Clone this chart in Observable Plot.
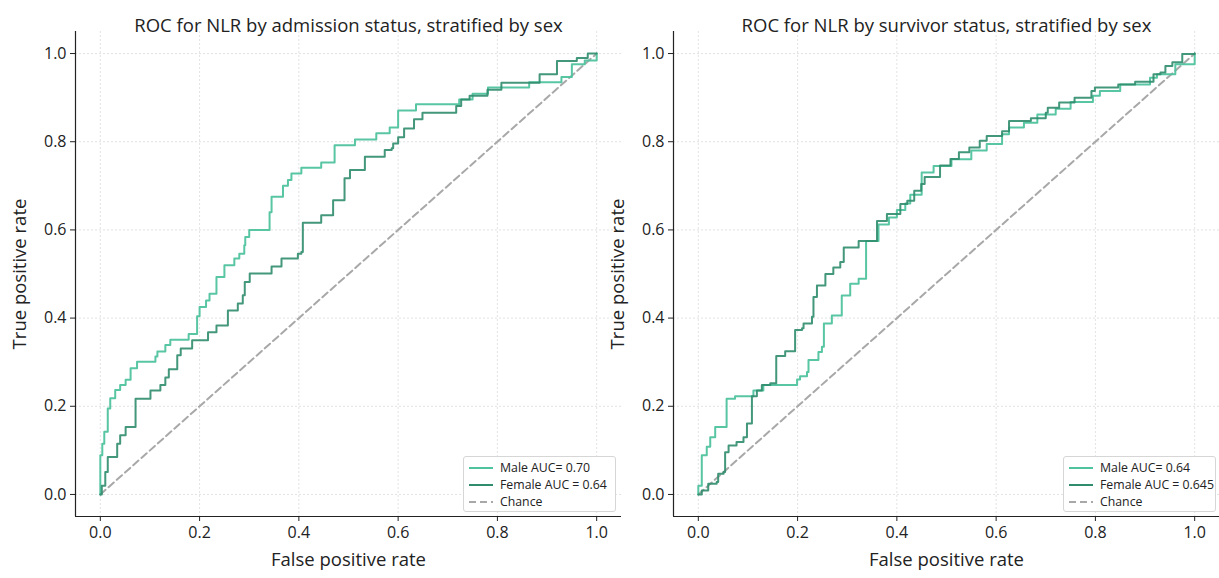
<!DOCTYPE html>
<html><head><meta charset="utf-8">
<script src="https://cdn.jsdelivr.net/npm/d3@7"></script>
<script src="https://cdn.jsdelivr.net/npm/@observablehq/plot@0.6"></script>
<style>
body{margin:0;background:#fff;font-family:"Open Sans",sans-serif;}
#wrap{position:relative;width:1219px;height:578px;overflow:hidden;background:#fff;}
.panel{position:absolute;top:0;}
.legend{position:absolute;background:#fff;border:1px solid #d6d6d6;border-radius:3px;box-sizing:border-box;padding:2px 0 0 4px;font-size:12.3px;color:#222;}
.legend .row{display:flex;align-items:center;height:17px;white-space:nowrap;}
.legend svg{margin-right:6px;}
</style></head><body><div id="wrap"></div>
<script>
// ---- data ----
const titles = ["ROC for NLR by admission status, stratified by sex", "ROC for NLR by survivor status, stratified by sex"];
const tickValues = [0, 0.2, 0.4, 0.6, 0.8, 1.0];
const chanceFpr = [0, 1];
const chanceTpr = [0, 1];

const admMaleFpr = [0,0,0.004,0.008,0.015,0.02,0.03,0.04,0.051,0.061,0.074,0.111,0.115,0.131,0.141,0.178,0.195,0.2,0.213,0.22,0.234,0.25,0.27,0.28,0.29,0.292,0.3,0.341,0.345,0.368,0.378,0.385,0.405,0.445,0.472,0.513,0.556,0.583,0.6,0.636,0.723,0.75,0.781,0.864,0.929,0.95,0.976,1];
const admMaleTpr = [0,0.089,0.115,0.142,0.195,0.218,0.237,0.248,0.26,0.286,0.301,0.313,0.324,0.339,0.351,0.364,0.404,0.425,0.44,0.455,0.493,0.52,0.535,0.546,0.565,0.584,0.6,0.64,0.675,0.70,0.713,0.728,0.741,0.753,0.792,0.805,0.819,0.832,0.871,0.885,0.896,0.909,0.923,0.935,0.947,0.976,0.984,1];

const admFemaleFpr = [0,0.003,0.01,0.015,0.034,0.04,0.051,0.071,0.101,0.121,0.131,0.138,0.155,0.162,0.185,0.217,0.234,0.257,0.277,0.287,0.291,0.301,0.345,0.365,0.398,0.405,0.408,0.445,0.469,0.492,0.503,0.533,0.573,0.587,0.59,0.6,0.612,0.632,0.649,0.717,0.727,0.744,0.78,0.808,0.885,0.92,0.96,0.982,1];
const admFemaleTpr = [0,0.02,0.051,0.085,0.115,0.134,0.153,0.217,0.236,0.248,0.265,0.284,0.316,0.331,0.35,0.368,0.383,0.417,0.433,0.452,0.482,0.501,0.517,0.535,0.546,0.55,0.616,0.633,0.667,0.717,0.736,0.766,0.781,0.785,0.796,0.81,0.83,0.851,0.866,0.881,0.896,0.904,0.918,0.934,0.953,0.983,0.99,1,1];

const survMaleFpr = [0,0,0.007,0.017,0.024,0.034,0.057,0.074,0.111,0.131,0.199,0.205,0.219,0.222,0.242,0.249,0.253,0.269,0.289,0.306,0.323,0.338,0.363,0.384,0.4,0.417,0.427,0.45,0.474,0.51,0.55,0.581,0.612,0.626,0.656,0.683,0.72,0.75,0.795,0.809,0.85,0.91,0.924,0.961,1,1];
const survMaleTpr = [0,0.02,0.089,0.108,0.13,0.153,0.217,0.223,0.236,0.248,0.261,0.268,0.278,0.305,0.323,0.335,0.388,0.406,0.451,0.478,0.489,0.575,0.612,0.628,0.645,0.66,0.68,0.73,0.745,0.76,0.78,0.795,0.817,0.832,0.843,0.862,0.875,0.89,0.904,0.915,0.93,0.945,0.953,0.976,0.976,1];

const survFemaleFpr = [0,0.007,0.02,0.037,0.04,0.051,0.054,0.061,0.077,0.091,0.098,0.108,0.108,0.118,0.128,0.145,0.157,0.175,0.195,0.209,0.212,0.229,0.232,0.239,0.256,0.272,0.286,0.293,0.323,0.36,0.38,0.407,0.421,0.435,0.449,0.456,0.487,0.508,0.525,0.546,0.567,0.581,0.612,0.626,0.67,0.7,0.704,0.727,0.758,0.792,0.799,0.846,0.88,0.917,0.931,0.941,0.955,0.975,1];
const survFemaleTpr = [0,0.009,0.024,0.028,0.047,0.051,0.096,0.111,0.119,0.13,0.161,0.176,0.223,0.236,0.248,0.252,0.314,0.325,0.373,0.377,0.388,0.403,0.448,0.474,0.50,0.515,0.527,0.56,0.575,0.62,0.636,0.659,0.666,0.689,0.704,0.72,0.746,0.761,0.776,0.787,0.802,0.813,0.824,0.847,0.853,0.866,0.877,0.889,0.9,0.915,0.923,0.93,0.936,0.953,0.957,0.972,0.98,0.999,1];

const legendLabels = [
  ["Male AUC= 0.70", "Female AUC = 0.64", "Chance"],
  ["Male AUC= 0.64", "Female AUC = 0.645", "Chance"]
];

// ---- styles ----
const maleColor = "#4fc29e";
const femaleColor = "#2f8c6c";
const chanceColor = "#a8a8a8";
const font = "'Open Sans', sans-serif";

const zip = (xs, ys) => xs.map((x, i) => ({x, y: ys[i]}));

function panel({left, width, marginLeft, marginRight, title, male, female}) {
  const chart = Plot.plot({
    width, height: 578,
    marginLeft, marginRight, marginTop: 31, marginBottom: 62,
    x: {domain: [-0.05, 1.05], label: null},
    y: {domain: [-0.05, 1.05], label: null},
    style: {fontFamily: font, fontSize: "16px", color: "#222", background: "transparent", overflow: "visible"},
    marks: [
      Plot.gridX(tickValues, {stroke: "#dadada", strokeOpacity: 1, strokeDasharray: "2,2", strokeWidth: 0.8}),
      Plot.gridY(tickValues, {stroke: "#dadada", strokeOpacity: 1, strokeDasharray: "2,2", strokeWidth: 0.8}),
      Plot.line(zip(chanceFpr, chanceTpr), {x: "x", y: "y", stroke: chanceColor, strokeWidth: 2, strokeDasharray: "7,4"}),
      Plot.line(male, {x: "x", y: "y", curve: "step-after", stroke: maleColor, strokeWidth: 2, strokeOpacity: 0.95}),
      Plot.line(female, {x: "x", y: "y", curve: "step-after", stroke: femaleColor, strokeWidth: 2, strokeOpacity: 0.9}),
      Plot.ruleX([-0.05], {stroke: "#222", strokeWidth: 1.2}),
      Plot.ruleY([-0.05], {stroke: "#222", strokeWidth: 1.2}),
      Plot.axisX(tickValues, {tickSize: 5, tickPadding: 5, tickFormat: d3.format(".1f"), fontSize: 16, label: null, stroke: "#222"}),
      Plot.axisY(tickValues, {tickSize: 5, tickPadding: 4, tickFormat: d3.format(".1f"), fontSize: 16, label: null, stroke: "#222"}),
      Plot.text([title], {frameAnchor: "top", dy: -13, fontSize: 18.5, fill: "#222"}),
      Plot.text(["False positive rate"], {frameAnchor: "bottom", dy: 49, fontSize: 18.5, fill: "#222"}),
      Plot.text(["True positive rate"], {frameAnchor: "left", textAnchor: "middle", dx: -55, rotate: -90, fontSize: 18.5, fill: "#222"})
    ]
  });
  chart.classList.add("panel");
  chart.style.left = left + "px";
  document.getElementById("wrap").appendChild(chart);
}

panel({left: 0, width: 624, marginLeft: 75, marginRight: 3, title: titles[0],
  male: zip(admMaleFpr, admMaleTpr), female: zip(admFemaleFpr, admFemaleTpr)});
panel({left: 600, width: 619, marginLeft: 73, marginRight: 0, title: titles[1],
  male: zip(survMaleFpr, survMaleTpr), female: zip(survFemaleFpr, survFemaleTpr)});

function legend(left, labels) {
  const div = document.createElement("div");
  div.className = "legend";
  div.style.left = left + "px";
  div.style.top = "456px";
  div.style.width = "153px";
  div.style.height = "56px";
  const colors = [maleColor, femaleColor, chanceColor];
  labels.forEach((lab, i) => {
    const row = document.createElement("div");
    row.className = "row";
    const dash = i === 2 ? 'stroke-dasharray="7,4"' : "";
    row.innerHTML = `<svg width="26" height="8"><line x1="1" x2="25" y1="4" y2="4" stroke="${colors[i]}" stroke-width="2" ${dash}/></svg><span>${lab}</span>`;
    div.appendChild(row);
  });
  document.getElementById("wrap").appendChild(div);
}
legend(463, legendLabels[0]);
legend(1063, legendLabels[1]);
</script>
</body></html>
